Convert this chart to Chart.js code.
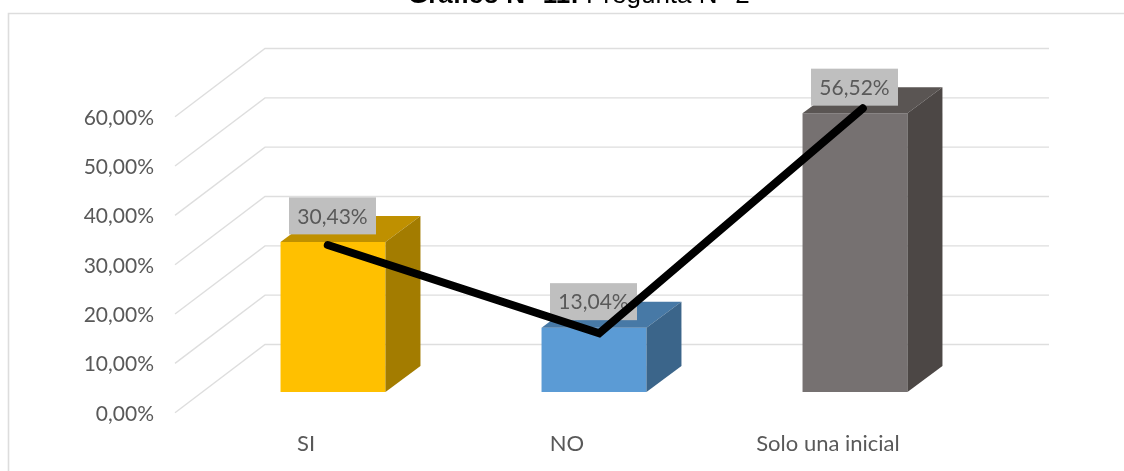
<!DOCTYPE html>
<html>
<head>
<meta charset="utf-8">
<style>html,body{margin:0;padding:0;background:#fff;overflow:hidden}canvas{display:block}</style>
<script src="https://cdn.jsdelivr.net/npm/chart.js@4/dist/chart.umd.min.js"></script>
</head>
<body>
<canvas id="c" width="1124" height="471"></canvas>
<script>
const categories = ['SI', 'NO', 'Solo una inicial'];
const barValues = [30.43, 13.04, 56.52];
const barLabels = ['30,43%', '13,04%', '56,52%'];
const lineCategoryPos = [-0.02, 1.02, 2.03];
const lineValues = [29.8, 11.9, 57.5];
const frontColors = ['#FFC000', '#5B9BD5', '#767171'];
const topColors = ['#BF9000', '#4779A6', '#5A5553'];
const sideColors = ['#A37C00', '#3B658A', '#4C4745'];

const FONT = 'Lato, "Open Sans", sans-serif';
const DEPTH_X = 35, DEPTH_Y = 26;

const fmt = v => v.toFixed(2).replace('.', ',') + '%';

const decor = {
  id: 'decor',
  beforeDraw(chart) {
    const c = chart.ctx;
    c.save();
    c.fillStyle = '#fff';
    c.fillRect(0, 0, chart.width, chart.height);
    c.strokeStyle = '#DDDDDD';
    c.lineWidth = 1.6;
    c.beginPath();
    c.moveTo(8.5, 471);
    c.lineTo(8.5, 13.5);
    c.lineTo(1124, 13.5);
    c.stroke();
    c.restore();
  },
  beforeDatasetsDraw(chart) {
    const c = chart.ctx, y = chart.scales.y;
    c.save();
    c.strokeStyle = '#DEDEDE';
    c.lineWidth = 1.4;
    y.ticks.forEach(t => {
      const p = y.getPixelForValue(t.value);
      c.beginPath();
      c.moveTo(175, p + 20.7);
      c.lineTo(265, p - 47.5);
      c.lineTo(1049, p - 47.5);
      c.stroke();
    });
    c.restore();
  },
  afterDatasetDraw(chart, args) {
    if (args.index !== 0) return;
    const c = chart.ctx;
    c.save();
    args.meta.data.forEach((bar, i) => {
      const l = bar.x - bar.width / 2, r = bar.x + bar.width / 2, t = bar.y, b = bar.base;
      c.fillStyle = topColors[i];
      c.beginPath();
      c.moveTo(l, t); c.lineTo(r, t); c.lineTo(r + DEPTH_X, t - DEPTH_Y); c.lineTo(l + DEPTH_X, t - DEPTH_Y);
      c.closePath(); c.fill();
      c.fillStyle = sideColors[i];
      c.beginPath();
      c.moveTo(r, t); c.lineTo(r + DEPTH_X, t - DEPTH_Y); c.lineTo(r + DEPTH_X, b - DEPTH_Y); c.lineTo(r, b);
      c.closePath(); c.fill();
    });
    c.font = '21px ' + FONT;
    c.textAlign = 'center';
    c.textBaseline = 'middle';
    args.meta.data.forEach((bar, i) => {
      const cx = bar.x - 0.5, cy = bar.y - 26;
      c.fillStyle = '#BFBFBF';
      c.fillRect(cx - 43.5, cy - 18.5, 87, 37);
      c.fillStyle = '#595959';
      c.fillText(barLabels[i], cx, cy + 1);
    });
    c.restore();
  },
  afterDraw(chart) {
    const c = chart.ctx;
    c.save();
    c.fillStyle = '#000';
    c.textBaseline = 'alphabetic';
    c.textAlign = 'left';
    const bold = 'Gráfico N° 11:', reg = ' Pregunta N° 2';
    c.font = 'bold 26px "Liberation Sans"';
    const w = c.measureText(bold).width;
    c.fillText(bold, 408, 3);
    c.font = '26px "Liberation Sans"';
    c.fillText(reg, 408 + w, 3);
    c.restore();
  }
};

new Chart(document.getElementById('c'), {
  data: {
    labels: categories,
    datasets: [
      { type: 'bar', data: barValues, backgroundColor: frontColors, order: 2, grouped: false,
        barPercentage: 1, categoryPercentage: 0.402, xAxisID: 'x', yAxisID: 'y' },
      { type: 'line', data: lineCategoryPos.map((x, i) => ({ x, y: lineValues[i] })),
        borderColor: '#000', borderWidth: 8, pointRadius: 0, tension: 0, order: 1,
        borderCapStyle: 'round', borderJoinStyle: 'miter', xAxisID: 'x2', yAxisID: 'y' }
    ]
  },
  options: {
    responsive: false,
    animation: false,
    layout: { padding: { top: 96, right: 138.5, left: 0, bottom: 0 } },
    plugins: { legend: { display: false }, title: { display: false }, tooltip: { enabled: false } },
    scales: {
      x: {
        type: 'category',
        grid: { display: false, drawTicks: false },
        border: { display: false },
        afterFit(s) { s.height = 79; },
        ticks: { color: '#595959', font: { family: FONT, size: 22 }, padding: 39,
                 labelOffset: -27, maxRotation: 0, autoSkip: false }
      },
      x2: { type: 'linear', display: false, min: -0.5, max: 2.5 },
      y: {
        min: 0, max: 60,
        grid: { display: false, drawTicks: false },
        border: { display: false },
        afterFit(s) { s.width = 202.5; },
        ticks: { stepSize: 10, color: '#595959', font: { family: FONT, size: 21 }, padding: 48.5,
                 labelOffset: 22, callback: fmt }
      }
    }
  },
  plugins: [decor]
});
</script>
</body>
</html>
